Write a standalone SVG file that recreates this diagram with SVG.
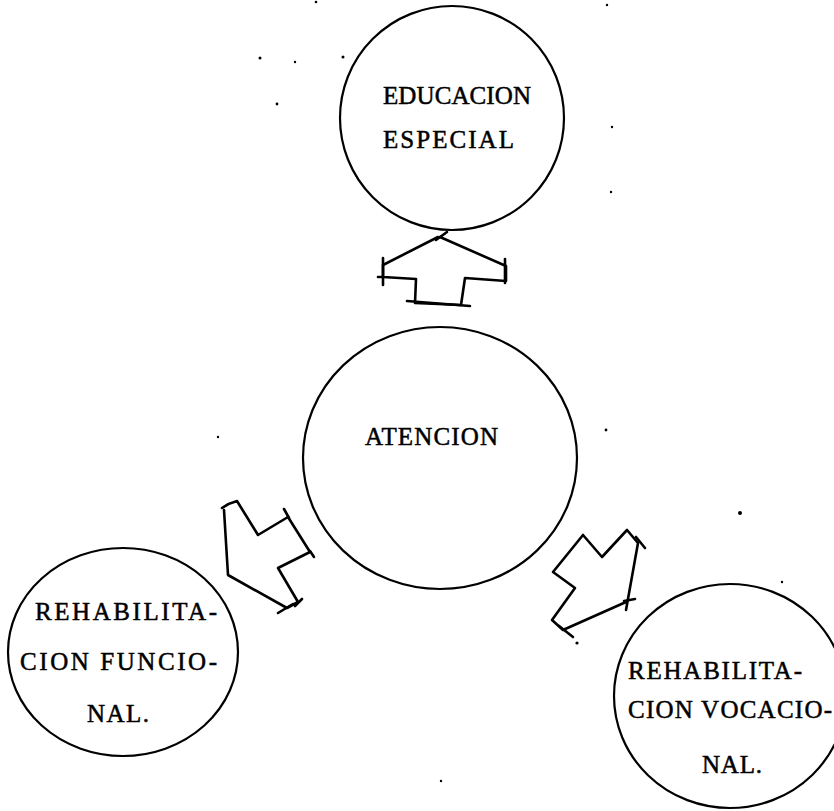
<svg xmlns="http://www.w3.org/2000/svg" width="834" height="811" viewBox="0 0 834 811">
<style>
.node ellipse{fill:none;stroke:#000;stroke-width:2.2}
.lbl{font-family:"Liberation Serif","Times New Roman",serif;font-size:25px;fill:#000;stroke:#000;stroke-width:0.5}
.arr path,.arr line{fill:none;stroke:#000;stroke-width:2.6;stroke-linejoin:round;stroke-linecap:round}
.dot{fill:#000}
</style>
<rect width="834" height="811" fill="#fff"/>
<g id="educacion" class="node">
<ellipse cx="452" cy="118" rx="112" ry="112"/>
<text class="lbl" x="383" y="104" textLength="148" lengthAdjust="spacing">EDUCACION</text>
<text class="lbl" x="383" y="148" textLength="131" lengthAdjust="spacing">ESPECIAL</text>
</g>
<g id="atencion" class="node">
<ellipse cx="440" cy="458" rx="137" ry="131"/>
<text class="lbl" x="365" y="445" textLength="133" lengthAdjust="spacing">ATENCION</text>
</g>
<g id="funcional" class="node">
<ellipse cx="123" cy="652" rx="115" ry="104"/>
<text class="lbl" x="35" y="620" textLength="182" lengthAdjust="spacing">REHABILITA-</text>
<text class="lbl" x="20" y="670" textLength="197" lengthAdjust="spacing">CION FUNCIO-</text>
<text class="lbl" x="87" y="722" textLength="62" lengthAdjust="spacing">NAL.</text>
</g>
<g id="vocacional" class="node">
<ellipse cx="730" cy="696" rx="116" ry="112"/>
<text class="lbl" x="628" y="679" textLength="174" lengthAdjust="spacing">REHABILITA-</text>
<text class="lbl" x="628" y="718" textLength="204" lengthAdjust="spacing">CION VOCACIO-</text>
<text class="lbl" x="702" y="773" textLength="60" lengthAdjust="spacing">NAL.</text>
</g>
<g id="connectors" class="arr">
<g id="arrow-top">
<path d="M438,237 L383,265 L383,277 L416,279 L415,303 L461,305 L465,278 L506,281 L506,266 L440,237"/>
<line x1="383" y1="258" x2="383" y2="285"/>
<line x1="378" y1="277" x2="383" y2="277"/>
<line x1="407" y1="301" x2="470" y2="306"/>
<line x1="505" y1="259" x2="505" y2="283"/>
<line x1="436" y1="240" x2="447" y2="232"/>
</g>
<g id="arrow-left">
<path d="M224,510 L228,575 L287,608 L298,602 L278,568 L310,552 L288,517 L258,535 L237,501 Q229,503 222,508"/>
<line x1="284" y1="509" x2="289" y2="518"/>
<line x1="310" y1="551" x2="314" y2="557"/>
<line x1="302" y1="599" x2="295" y2="606"/>
<line x1="278" y1="613" x2="293" y2="604"/>
</g>
<g id="arrow-right">
<path d="M553,572 L583,535 L602,557 L627,530 L638,543 L626,610 M626,602 L563,630 L552,620 L575,588 L553,572"/>
<line x1="636" y1="537" x2="645" y2="548"/>
<line x1="624" y1="601" x2="635" y2="599"/>
<line x1="559" y1="626" x2="573" y2="637"/>
</g>
</g>
<g id="specks" class="dot">
<circle cx="316" cy="2" r="1.3"/>
<circle cx="260" cy="58" r="1.5"/>
<circle cx="295" cy="62" r="1.2"/>
<circle cx="343" cy="57" r="1.5"/>
<circle cx="277" cy="104" r="1.4"/>
<circle cx="606" cy="430" r="1.4"/>
<circle cx="740" cy="513" r="2"/>
<circle cx="782" cy="582" r="1.2"/>
<circle cx="577" cy="643" r="1.6"/>
<circle cx="218" cy="437" r="1.2"/>
<circle cx="441" cy="781" r="1.2"/>
<circle cx="607" cy="5" r="1.2"/>
<circle cx="612" cy="127" r="1.2"/>
<circle cx="611" cy="192" r="1.2"/>
</g>
</svg>
